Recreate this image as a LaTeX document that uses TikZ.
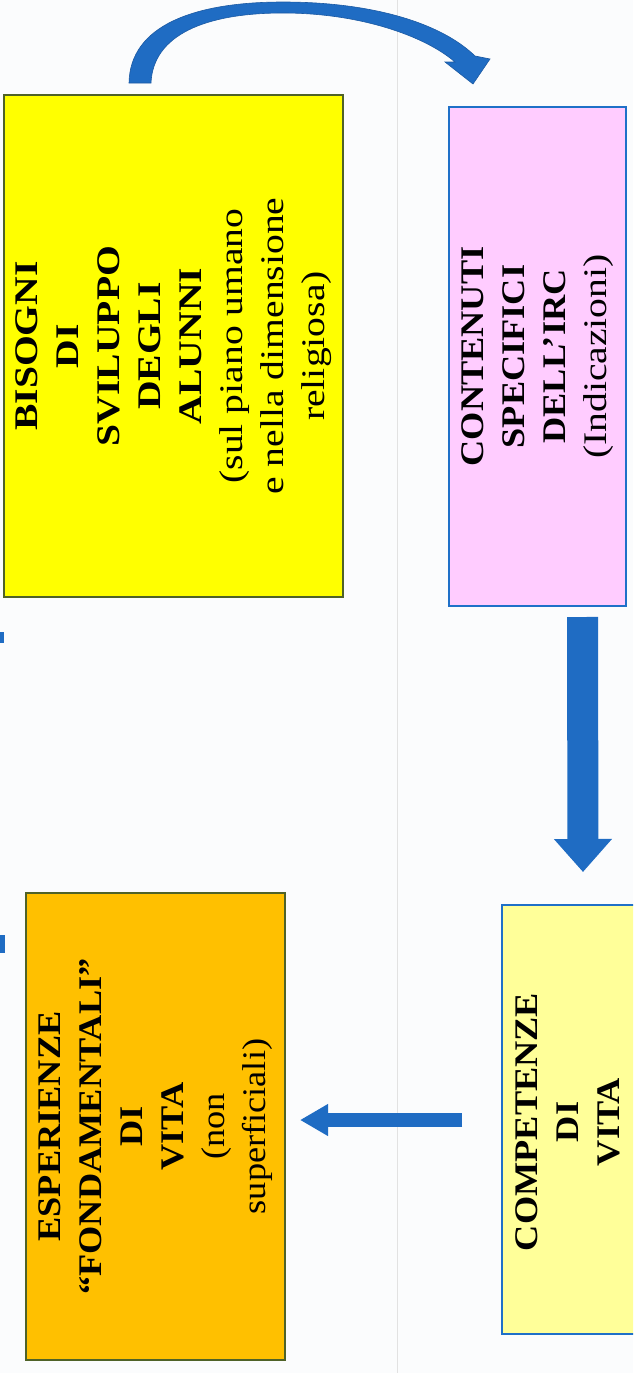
\documentclass[tikz,border=0pt]{standalone}
\usepackage{fontspec}
\setmainfont{Liberation Serif}
\newfontfamily\boxfont[FakeStretch=1.1]{Liberation Serif}
\newfontfamily\boxfontw[FakeStretch=1.2]{Liberation Serif}
\usetikzlibrary{arrows.meta}
\definecolor{bg}{HTML}{FBFCFD}
\definecolor{ablue}{HTML}{1F6CC3}
\definecolor{adark}{HTML}{1C5AA3}
\definecolor{bblue}{HTML}{1F70C8}
\definecolor{olive}{HTML}{4F6228}
\definecolor{yel}{HTML}{FFFF00}
\definecolor{pinkf}{HTML}{FFCCFF}
\definecolor{orf}{HTML}{FFC000}
\definecolor{lyel}{HTML}{FFFF99}
\definecolor{vline}{HTML}{E2E2E2}
\tikzset{
  box/.style={rectangle, rotate=90, line width=2.5pt, inner sep=0pt, align=center,
    font=\boxfont\fontsize{33}{41}\selectfont, text=black},
  widebox/.style={box, font=\boxfontw\fontsize{33}{41}\selectfont},
  greenbox/.style={draw=olive},
  bluebox/.style={draw=bblue},
}
\begin{document}
\begin{tikzpicture}[x=1pt,y=-1pt]
\path[use as bounding box] (0,0) rectangle (633,1373);
\clip (0,0) rectangle (633,1373);
\fill[bg] (0,0) rectangle (633,1373);
\draw[vline, line width=0.8pt] (397,0) -- (397,1373);

% boxes
\node[widebox, greenbox, fill=yel, minimum width=502pt, minimum height=339pt] (bisogni) at (173.5,346)
  {\textbf{BISOGNI}\\\textbf{DI}\\\textbf{SVILUPPO}\\\textbf{DEGLI}\\\textbf{ALUNNI}\\(sul piano umano\\e nella dimensione\\religiosa)};
\node[box, bluebox, fill=pinkf, minimum width=499pt, minimum height=177pt] (contenuti) at (537.5,356.5)
  {\textbf{CONTENUTI}\\\textbf{SPECIFICI}\\\textbf{DELL’IRC}\\{\boxfontw(Indicazioni)}};
\node[box, greenbox, fill=orf, minimum width=467pt, minimum height=259pt] (esperienze) at (155.5,1126.5)
  {\textbf{ESPERIENZE}\\\textbf{“FONDAMENTALI”}\\\textbf{DI}\\\textbf{VITA}\\(non\\superficiali)};
\node[box, bluebox, fill=lyel, minimum width=429pt, minimum height=150pt] (competenze) at (577,1119.5) {};
\node[box] (comptext) at (567.5,1122)
  {\textbf{COMPETENZE}\\\textbf{DI}\\\textbf{VITA}};

% down block arrow
\coordinate (d1) at (582.5,617);
\coordinate (d2) at (583,872);
\draw[ablue, line width=31pt, -{Triangle[width=56pt,length=33pt]}] (d1) -- (d2);

% left arrow
\coordinate (l1) at (462,1120);
\coordinate (l2) at (300,1120);
\draw[ablue, line width=14pt, -{Triangle[width=30pt,length=28pt]}] (l1) -- (l2);

% curved arrow
\coordinate (a1o) at (129,83);
\coordinate (a1i) at (151,83);
\coordinate (a2o) at (475,56);
\coordinate (a2i) at (455,62);
\coordinate (tl) at (445,62);
\coordinate (tr) at (490,59);
\coordinate (tp) at (473,84);
\filldraw[fill=ablue, draw=adark, line width=0.6pt]
  (a1o) .. controls (130,25) and (195,2) .. (283,2)
  .. controls (370,2) and (440,22) .. (a2o)
  -- (tr) -- (tp) -- (tl) -- (a2i)
  .. controls (425,36) and (360,13) .. (283,13)
  .. controls (205,13) and (153,35) .. (a1i) -- cycle;

% cut-off fragments at the left edge
\fill[ablue] (0,632) rectangle (4,643);
\fill[ablue] (0,935) rectangle (5,953);
\end{tikzpicture}
\end{document}
